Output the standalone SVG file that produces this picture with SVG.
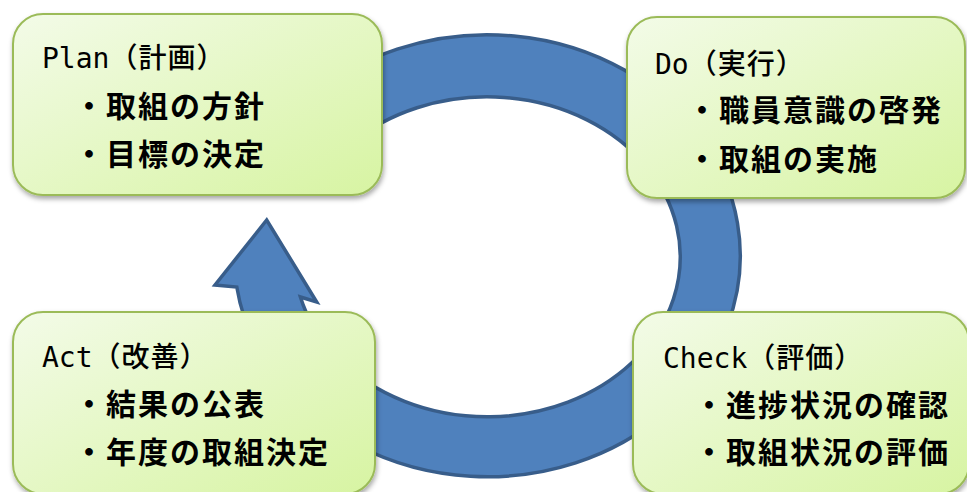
<svg xmlns="http://www.w3.org/2000/svg" width="967" height="492" viewBox="0 0 967 492">
  <defs>
    <linearGradient id="boxFill" x1="0" y1="0" x2="1" y2="1">
      <stop offset="0" stop-color="#f3fbe8"/>
      <stop offset="1" stop-color="#d7f4a2"/>
    </linearGradient>
    <filter id="shadow" x="-10%" y="-10%" width="120%" height="130%">
      <feDropShadow dx="1" dy="3" stdDeviation="2.5" flood-color="#000" flood-opacity="0.35"/>
    </filter>
    <style>
      .box { fill: url(#boxFill); stroke: #9bbb59; stroke-width: 2; filter: url(#shadow); }
      .ring { fill: #4f81bd; stroke: #385d8a; stroke-width: 3.5; stroke-linejoin: miter; }
      .title { font-size: 28px; fill: #000; }
      .lat { font-family: "DejaVu Sans Mono", "Liberation Mono", monospace; }
      .cjk { font-family: "Noto Sans CJK JP", "Noto Sans", sans-serif; font-weight: 500; letter-spacing: 1px; }
      .item { font-family: "Noto Sans CJK JP", "Noto Sans", sans-serif; font-size: 30px; font-weight: bold; letter-spacing: 2px; fill: #000; }
    </style>
  </defs>

  <g id="connectors">
    <path id="cycle-arrow" class="ring" d="M308.1,99.7 A253,221 0 1 1 236.8,287 L215,285 L266.7,220 L316.7,302 L300.4,297 A193,160 0 1 0 350.5,143.9 Z"/>
  </g>

  <g id="plan">
    <rect class="box" x="13" y="14" width="369" height="181" rx="30" ry="30"/>
    <text class="title" x="42" y="68"><tspan class="lat">Plan</tspan><tspan class="cjk">（計画）</tspan></text>
    <text class="item" x="74" y="117">・取組の方針</text>
    <text class="item" x="74" y="165">・目標の決定</text>
  </g>

  <g id="do">
    <rect class="box" x="627" y="17" width="338" height="181" rx="30" ry="30"/>
    <text class="title" x="655" y="74"><tspan class="lat">Do</tspan><tspan class="cjk">（実行）</tspan></text>
    <text class="item" x="687" y="121">・職員意識の啓発</text>
    <text class="item" x="687" y="170">・取組の実施</text>
  </g>

  <g id="act">
    <rect class="box" x="13" y="312" width="362" height="182" rx="30" ry="30"/>
    <text class="title" x="42" y="367"><tspan class="lat">Act</tspan><tspan class="cjk">（改善）</tspan></text>
    <text class="item" x="74" y="415">・結果の公表</text>
    <text class="item" x="74" y="463">・年度の取組決定</text>
  </g>

  <g id="check">
    <rect class="box" x="633" y="312" width="336" height="182" rx="30" ry="30"/>
    <text class="title" x="663" y="368"><tspan class="lat">Check</tspan><tspan class="cjk">（評価）</tspan></text>
    <text class="item" x="694" y="416">・進捗状況の確認</text>
    <text class="item" x="694" y="463">・取組状況の評価</text>
  </g>
</svg>
